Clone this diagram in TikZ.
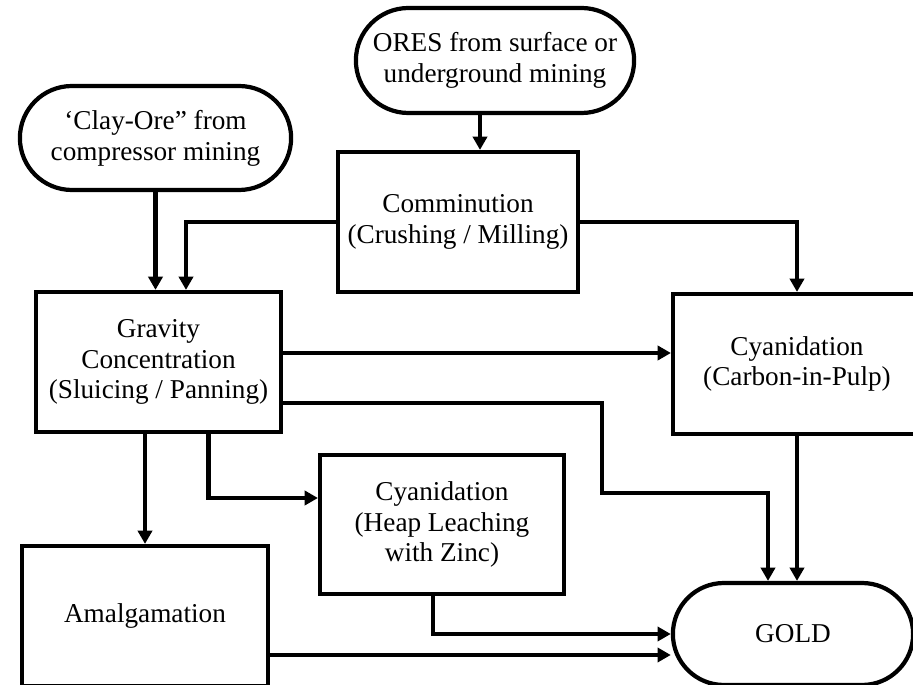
\documentclass[tikz,border=0pt]{standalone}
\usepackage{fontspec}
\setmainfont{Liberation Serif}
\usetikzlibrary{shapes.misc,arrows.meta,positioning,calc}

\begin{document}
\begin{tikzpicture}[x=0.02cm, y=-0.02cm,
    procbox/.style={draw, line width=2.4pt, rectangle,
        minimum width=4.9cm, minimum height=2.8cm,
        align=center, font=\fontsize{15.5}{17.5}\selectfont},
    termbox/.style={draw, line width=2.4pt, rounded rectangle,
        minimum height=2.08cm,
        align=center, font=\fontsize{15.5}{17.5}\selectfont},
    flow/.style={-{Triangle[length=7.5pt,width=8pt]}, line width=2.3pt}]

  %% Frame of the picture
  \clip (0,0) rectangle (913,685);

  %% Sources
  \node[termbox, minimum width=5.66cm] (clay) at (155.5,138)
    {‘Clay-Ore”  from\\compressor mining};
  \node[termbox, minimum width=5.8cm, minimum height=2.1cm] (ores) at (495,60.5)
    {ORES  from surface or\\underground mining};

  %% Process steps
  \node[procbox, minimum width=4.8cm] (comm) at (458,222)
    {Comminution\\(Crushing / Milling)};
  \node[procbox] (grav) at (158.5,362)
    {Gravity\\Concentration\\(Sluicing / Panning)};
  \node[procbox, minimum width=4.96cm] (cip) at (797,364)
    {Cyanidation\\(Carbon-in-Pulp)};
  \node[procbox, minimum width=4.88cm, minimum height=2.78cm] (heap) at (442,524.5)
    {Cyanidation\\(Heap Leaching\\with Zinc)};
  \node[procbox, minimum width=4.92cm] (amal) at (145,616)
    {Amalgamation};

  %% Product
  \node[termbox, minimum width=5.04cm, minimum height=2.04cm] (gold) at (793,634)
    {GOLD};

  %% Helper points for the bends
  \coordinate (oc) at ([xshift=-0.3cm]ores.south);
  \coordinate (gc) at ([yshift=0.18cm]grav.east);
  \coordinate (gg) at ([yshift=-0.82cm]grav.east);
  \coordinate (ggA) at (602,493);
  \coordinate (gh) at ([xshift=1cm]grav.south);
  \coordinate (ag) at ([yshift=-0.42cm]gold.west);

  %% Arrows
  \draw[flow] (clay.south) -- (clay.south |- grav.north);
  \draw[flow] (oc) -- (oc |- comm.north);
  \draw[flow] (comm.west) -| ([xshift=0.55cm]grav.north);
  \draw[flow] (comm.east) -| (cip.north);
  \draw[flow] (gc) -- (gc -| cip.west);
  \draw[flow] (gg) -| (ggA) -| ([xshift=-0.5cm]gold.north);
  \draw[flow] (cip.south) -- (cip.south |- gold.north);
  \draw[flow] (amal.north |- grav.south) -- (amal.north);
  \draw[flow] (gh) |- ([yshift=0.53cm]heap.west);
  \draw[flow] ([xshift=-0.18cm]heap.south) |- (gold.west);
  \draw[flow] (ag -| amal.east) -- (ag);

\end{tikzpicture}
\end{document}
